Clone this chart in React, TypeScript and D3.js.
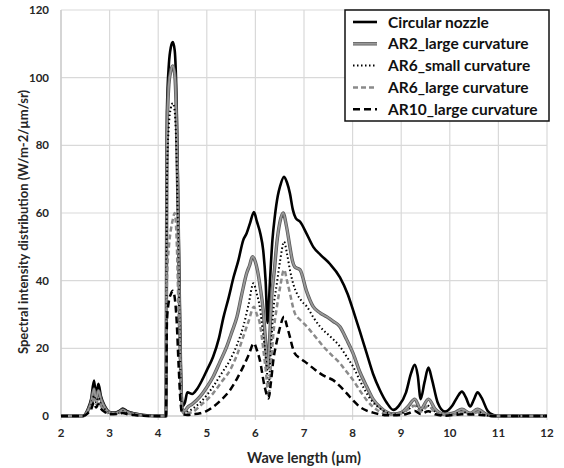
import React from "react";
import * as d3 from "d3";

// ---------- data ----------
const circX = [2, 2.45, 2.55, 2.62, 2.68, 2.72, 2.77, 2.82, 2.9, 3.0, 3.1, 3.2, 3.27, 3.35, 3.5, 3.7, 4.0, 4.16, 4.18, 4.22, 4.26, 4.3, 4.34, 4.38, 4.42, 4.46, 4.5, 4.55, 4.6, 4.7, 4.8, 4.9, 5.0, 5.13, 5.25, 5.34, 5.45, 5.55, 5.65, 5.75, 5.82, 5.89, 5.97, 6.03, 6.1, 6.16, 6.21, 6.25, 6.3, 6.35, 6.4, 6.46, 6.51, 6.59, 6.65, 6.71, 6.77, 6.83, 6.92, 7.05, 7.19, 7.35, 7.53, 7.74, 7.9, 8.01, 8.15, 8.29, 8.42, 8.56, 8.7, 8.84, 8.95, 9.1, 9.2, 9.28, 9.34, 9.4, 9.48, 9.56, 9.63, 9.75, 9.9, 10.05, 10.15, 10.25, 10.33, 10.42, 10.5, 10.57, 10.65, 10.78, 10.9, 11, 12];
const circY = [0, 0, 2, 5, 10.5, 6, 9.5, 6, 3, 1.2, 1, 1.5, 2.2, 1.5, 0.8, 0.3, 0, 0, 90, 104, 109, 110.5, 108, 92, 55, 18, 3, 4, 7, 6.5, 8, 10.5, 13.5, 17.5, 23, 29, 35, 41, 46, 52, 54, 57, 60.3, 57.5, 54, 49, 40, 27.5, 40, 52, 59, 65, 68, 70.7, 69, 65.8, 61, 58.5, 57.4, 54, 50, 47.5, 45, 41, 36, 31.3, 25, 18.5, 12.5, 7.7, 4, 1.8, 3, 7, 12.5, 15.1, 12, 5, 10, 14.3, 11, 4, 1.3, 3, 5.5, 7.2, 5.5, 2.8, 5, 7, 5.5, 1.5, 0.3, 0, 0];

const ar2X = [2, 2.45, 2.55, 2.62, 2.68, 2.72, 2.77, 2.82, 2.9, 3.0, 3.1, 3.2, 3.27, 3.35, 3.5, 3.7, 4.0, 4.16, 4.18, 4.22, 4.26, 4.3, 4.34, 4.38, 4.42, 4.46, 4.5, 4.55, 4.6, 4.7, 4.86, 5.0, 5.13, 5.27, 5.41, 5.52, 5.62, 5.72, 5.82, 5.88, 5.94, 6.0, 6.04, 6.1, 6.16, 6.21, 6.25, 6.29, 6.33, 6.39, 6.44, 6.5, 6.57, 6.64, 6.71, 6.76, 6.81, 6.92, 7.05, 7.19, 7.33, 7.47, 7.6, 7.74, 7.88, 8.01, 8.15, 8.29, 8.42, 8.56, 8.7, 8.84, 9.0, 9.15, 9.28, 9.4, 9.56, 9.7, 9.9, 10.1, 10.25, 10.42, 10.57, 10.75, 10.9, 12];
const ar2Y = [0, 0, 1.5, 4, 8, 5, 7.5, 5, 2.5, 1, 0.8, 1.2, 1.8, 1.2, 0.6, 0.2, 0, 0, 82, 98, 102, 103.5, 101, 85, 50, 15, 2, 1.5, 2.5, 3.5, 5.7, 8.5, 11.6, 16, 20.5, 25, 29.3, 36, 42.2, 44.5, 47.1, 45.5, 43.2, 38, 31.3, 22, 14, 22, 34.3, 43, 51, 57, 60, 56, 50, 46, 44.1, 43.2, 37, 32.3, 30.5, 29.3, 28, 26.4, 22.5, 18.5, 13, 8.7, 5, 2.7, 1.2, 0.6, 1, 3, 5, 2, 5, 2, 0.5, 1, 2, 0.8, 2, 0.5, 0, 0];

const ar6sX = [2, 2.45, 2.55, 2.62, 2.68, 2.72, 2.77, 2.82, 2.9, 3.0, 3.2, 3.27, 3.35, 3.5, 3.7, 4.0, 4.16, 4.18, 4.22, 4.26, 4.3, 4.34, 4.38, 4.42, 4.46, 4.5, 4.55, 4.6, 4.72, 4.9, 5.13, 5.3, 5.48, 5.62, 5.75, 5.86, 5.96, 6.03, 6.09, 6.16, 6.22, 6.27, 6.32, 6.37, 6.44, 6.51, 6.59, 6.65, 6.71, 6.78, 6.85, 6.95, 7.06, 7.2, 7.33, 7.54, 7.74, 7.88, 8.01, 8.15, 8.29, 8.42, 8.56, 8.7, 8.84, 9.0, 9.15, 9.28, 9.4, 9.56, 9.7, 9.9, 10.1, 10.25, 10.42, 10.57, 10.75, 10.9, 12];
const ar6sY = [0, 0, 1, 3, 6, 4, 5.5, 3.5, 2, 0.8, 1, 1.4, 1, 0.5, 0.2, 0, 0, 70, 86, 91, 92.5, 90, 75, 42, 12, 1.5, 0.8, 1.2, 2.3, 4.5, 8.7, 12.5, 16.6, 21, 26.4, 33, 39.2, 36, 32.3, 24, 16.6, 8.7, 20, 31.3, 39, 46, 51.5, 48, 43.2, 39, 36.3, 34, 32.3, 29, 26.4, 23.5, 20.5, 17.5, 14.6, 10.5, 6.7, 4, 2.3, 1, 0.5, 0.8, 2, 3.2, 1.5, 3, 1.2, 0.3, 0.6, 1.3, 0.5, 1.2, 0.3, 0, 0];

const ar6lX = [2, 2.45, 2.55, 2.62, 2.68, 2.72, 2.77, 2.82, 2.9, 3.0, 3.2, 3.27, 3.35, 3.5, 3.7, 4.0, 4.16, 4.18, 4.22, 4.26, 4.3, 4.34, 4.38, 4.42, 4.46, 4.5, 4.55, 4.6, 4.72, 4.9, 5.13, 5.3, 5.48, 5.62, 5.75, 5.86, 5.97, 6.03, 6.09, 6.16, 6.22, 6.27, 6.32, 6.37, 6.44, 6.51, 6.59, 6.65, 6.71, 6.76, 6.81, 6.93, 7.06, 7.23, 7.4, 7.57, 7.74, 7.88, 8.01, 8.15, 8.29, 8.42, 8.56, 8.7, 8.84, 9.0, 9.15, 9.28, 9.4, 9.56, 9.7, 9.9, 10.1, 10.25, 10.42, 10.57, 10.75, 10.9, 12];
const ar6lY = [0, 0, 1, 2.5, 5, 3.5, 4.5, 3, 1.6, 0.7, 0.8, 1.2, 0.8, 0.4, 0.1, 0, 0, 40, 50, 55, 58, 60, 52, 30, 9, 1.2, 0.5, 0.8, 1.3, 3.5, 6.7, 10, 13.6, 18, 23.4, 28, 32.3, 30, 27.4, 20, 12.6, 5.7, 15, 24.4, 32, 38.2, 43.2, 40, 36.3, 33, 30.4, 28.3, 26.4, 23.5, 20.5, 18, 15.6, 13, 10.6, 7.5, 4.7, 2.7, 1.3, 0.6, 0.4, 0.8, 2, 3, 1.3, 3, 1, 0.3, 0.5, 1.2, 0.4, 1.1, 0.3, 0, 0];

const ar10X = [2, 2.45, 2.55, 2.62, 2.68, 2.72, 2.77, 2.82, 2.9, 3.0, 3.2, 3.27, 3.35, 3.5, 3.7, 4.0, 4.16, 4.18, 4.22, 4.26, 4.3, 4.34, 4.38, 4.42, 4.46, 4.5, 4.6, 4.72, 4.86, 5.0, 5.13, 5.3, 5.48, 5.62, 5.75, 5.86, 5.97, 6.03, 6.09, 6.19, 6.27, 6.32, 6.37, 6.44, 6.51, 6.59, 6.65, 6.71, 6.76, 6.81, 6.93, 7.06, 7.2, 7.33, 7.46, 7.6, 7.74, 7.88, 8.01, 8.15, 8.29, 8.42, 8.56, 8.7, 9.0, 9.15, 9.28, 9.4, 9.56, 9.7, 9.9, 10.25, 10.57, 10.9, 12];
const ar10Y = [0, 0, 0.8, 2, 4, 2.5, 3.5, 2.2, 1.2, 0.5, 0.6, 0.9, 0.6, 0.3, 0.1, 0, 0, 28, 34, 36, 37, 35, 28, 15, 4, 0.5, 0.3, 0.5, 0.8, 1.5, 2.7, 4.8, 7.7, 11, 14.6, 18, 21.5, 19.5, 16.6, 8.7, 5.2, 10, 16.6, 22, 26.4, 29.3, 26.5, 23.4, 20.5, 18.5, 17, 15.6, 14, 12.6, 11.5, 10.6, 8.8, 6.7, 4.6, 2.7, 1.6, 1, 0.5, 0.2, 0.3, 0.8, 1.5, 0.6, 1.4, 0.5, 0.1, 0.5, 0.4, 0, 0];

const seriesNames = ["Circular nozzle", "AR2_large curvature", "AR6_small curvature", "AR6_large curvature", "AR10_large curvature"];
const xTicks = [2, 3, 4, 5, 6, 7, 8, 9, 10, 11, 12];
const yTicks = [0, 20, 40, 60, 80, 100, 120];
const xTitle = "Wave length (µm)";
const yTitle = "Spectral intensity distribution (W/m-2/µm/sr)";

// ---------- styles ----------
const styles = [
  { color: "#000", width: 2.6, dash: "", outline: "" },
  { color: "#999", width: 1.8, dash: "", outline: "#5a5a5a" },
  { color: "#000", width: 2, dash: "1.5,2.5", outline: "" },
  { color: "#8a8a8a", width: 2.5, dash: "5,3", outline: "" },
  { color: "#000", width: 2.5, dash: "7,4", outline: "" },
];

const W = 564, H = 468;
const left = 61, right = 547, top = 10, bottom = 416;
const FONT = "Lato, 'Open Sans', sans-serif";

export default function App() {
  const x = d3.scaleLinear().domain([2, 12]).range([left, right]);
  const y = d3.scaleLinear().domain([0, 120]).range([bottom, top]);
  const xs = [circX, ar2X, ar6sX, ar6lX, ar10X];
  const ys = [circY, ar2Y, ar6sY, ar6lY, ar10Y];
  const line = d3
    .line<[number, number]>()
    .x((d) => x(d[0]))
    .y((d) => y(d[1]))
    .curve(d3.curveMonotoneX);

  const legX = 345, legY = 10, legW = 204, legH = 111;
  return (
    <svg width={W} height={H} style={{ position: "absolute", left: 0, top: 0, background: "#fff" }} fontFamily={FONT}>
      <rect x={0} y={0} width={W} height={H} fill="#fff" />
      {yTicks.map((t) => (
        <line key={"gy" + t} x1={left} x2={right} y1={y(t)} y2={y(t)} stroke="#d9d9d9" strokeWidth={1.2} />
      ))}
      {xTicks.map((t) => (
        <line key={"gx" + t} x1={x(t)} x2={x(t)} y1={top} y2={bottom + 4} stroke="#d9d9d9" strokeWidth={1.2} />
      ))}
      <line x1={left} x2={left} y1={top} y2={bottom} stroke="#c8c8c8" strokeWidth={1.2} />
      <line x1={left} x2={right} y1={bottom} y2={bottom} stroke="#c8c8c8" strokeWidth={1.2} />
      {yTicks.map((t) => (
        <text key={"ly" + t} x={49} y={y(t)} dy="0.35em" textAnchor="end" fontSize={11.5} fontWeight="bold" fill="#262626">
          {t}
        </text>
      ))}
      {xTicks.map((t) => (
        <text key={"lx" + t} x={x(t)} y={437} textAnchor="middle" fontSize={11.5} fontWeight="bold" fill="#262626">
          {t}
        </text>
      ))}
      <text x={(left + right) / 2} y={463} textAnchor="middle" fontSize={14.5} fontWeight="bold" fill="#262626">
        {xTitle}
      </text>
      <text transform={`translate(28,${222}) rotate(-90)`} textAnchor="middle" fontSize={13} fontWeight="bold" fill="#262626">
        {yTitle}
      </text>
      {xs.map((xa, i) => {
        const pts: [number, number][] = xa.map((v, j) => [v, ys[i][j]]);
        const s = styles[i];
        const d = line(pts) || "";
        return (
          <g key={"s" + i}>
            {s.outline && (
              <path d={d} fill="none" stroke={s.outline} strokeWidth={s.width + 1.6} strokeLinejoin="round" />
            )}
            <path d={d} fill="none" stroke={s.color} strokeWidth={s.width}
              strokeDasharray={s.dash || undefined} strokeLinejoin="round" />
          </g>
        );
      })}
      <rect x={legX} y={legY} width={legW} height={legH} fill="#fff" stroke="#111" strokeWidth={1.5} />
      {seriesNames.map((n, i) => {
        const cy = 22 + i * 21.8;
        const s = styles[i];
        return (
          <g key={"lg" + i}>
            {s.outline && (
              <line x1={353} x2={377} y1={cy} y2={cy} stroke={s.outline} strokeWidth={s.width + 1.6} />
            )}
            <line x1={353} x2={377} y1={cy} y2={cy} stroke={s.color} strokeWidth={s.width}
              strokeDasharray={s.dash || undefined} />
            <text x={388} y={cy} dy="0.36em" fontSize={15.5} fontWeight="bold" fill="#111">
              {n}
            </text>
          </g>
        );
      })}
    </svg>
  );
}
